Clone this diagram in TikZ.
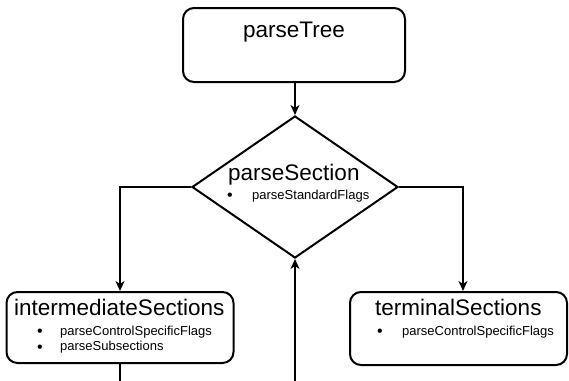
\documentclass[tikz,border=0pt]{standalone}
\usepackage{fontspec}
\setmainfont{Liberation Sans}
\usetikzlibrary{shapes.geometric,arrows.meta}
\begin{document}
\begin{tikzpicture}[x=1pt,y=-1pt,
  box/.style={draw,line width=2pt,rounded corners=11pt,inner sep=0pt},
  dia/.style={draw,diamond,line width=2pt,inner sep=0pt},
  title/.style={anchor=base west,inner sep=0pt,font=\fontsize{22.5}{26}\selectfont},
  item/.style={anchor=base west,inner sep=0pt,font=\fontsize{13}{15}\selectfont},
  bul/.style={anchor=base,inner sep=0pt,font=\fontsize{16}{16}\selectfont},
  conn/.style={line width=2pt},
  arr/.style={conn,-{Stealth[length=10pt,width=9pt,inset=3pt]}}]
\useasboundingbox (0,0) rectangle (569,380);
% boxes
\node[box,minimum width=222pt,minimum height=74pt] (pt) at (294,45) {};
\node[dia,minimum width=206pt,minimum height=142pt] (ps) at (295,187) {};
\node[box,minimum width=227pt,minimum height=71pt] (is) at (120,327.5) {};
\node[box,minimum width=217pt,minimum height=73pt] (ts) at (458.5,328.5) {};
% texts
\node[title] (t1) at (243,37) {parseTree};
\node[title] (t2) at (228,180.5) {parseSection};
\node[bul] (b2) at (230,200.5) {•};
\node[item] (i2) at (252,199) {parseStandardFlags};
\node[title] (t3) at (14,315) {intermediateSections};
\node[bul] (b3a) at (40,336.5) {•};
\node[item] (i3a) at (60,335) {parseControlSpecificFlags};
\node[bul] (b3b) at (40,352) {•};
\node[item] (i3b) at (60,350.5) {parseSubsections};
\node[title] (t4) at (375,315) {terminalSections};
\node[bul] (b4) at (380,336.5) {•};
\node[item] (i4) at (402,335) {parseControlSpecificFlags};
% connectors
\coordinate (rj) at (463,187);
\coordinate (isb) at (120,382);
\coordinate (up) at (295,382);
\draw[arr] (pt.south -| ps.north) -- (ps.north);
\draw[arr] (ps.west) -| (is.north);
\draw[arr] (ps.east) -- (rj) -- (rj |- ts.north);
\draw[conn] (is.south) -- (isb);
\draw[arr] (up) -- (ps.south);
\end{tikzpicture}
\end{document}
